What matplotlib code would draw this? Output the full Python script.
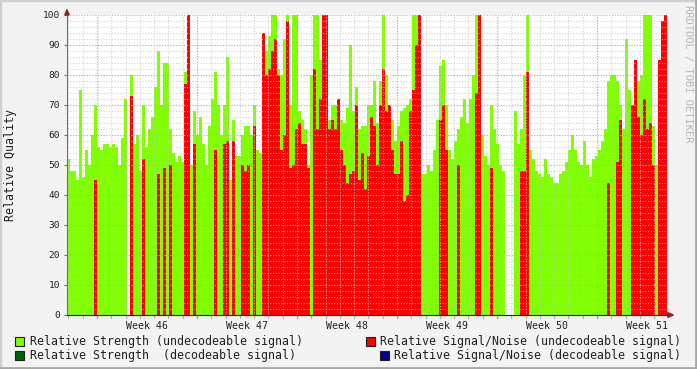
import numpy as np
import matplotlib
matplotlib.use("Agg")
import matplotlib.pyplot as plt
from matplotlib.patches import Rectangle, Polygon
from matplotlib.lines import Line2D

# one value per 3-pixel column slot, 200 slots over six weeks
strength_undec = [
    52, 48, 48, 45, 75, 46, 55, 50, 60, 70, 56, 55, 57, 57, 56, 57, 56, 50, 59, 72,
    0, 80, 57, 60, 48, 70, 56, 62, 66, 76, 88, 70, 84, 84, 62, 54, 51, 53, 51, 81,
    88, 50, 68, 60, 66, 57, 50, 63, 72, 81, 70, 60, 70, 86, 45, 65, 53, 53, 60, 63,
    63, 60, 70, 55, 54, 68, 88, 93, 100, 100, 82, 80, 92, 100, 70, 100, 100, 68, 65, 62,
    50, 80, 100, 100, 85, 100, 100, 65, 70, 70, 72, 65, 64, 69, 90, 68, 76, 62, 63, 63,
    70, 70, 78, 64, 78, 100, 80, 70, 65, 58, 63, 68, 69, 70, 72, 100, 100, 100, 47, 47,
    50, 48, 55, 65, 83, 85, 70, 55, 52, 58, 62, 66, 72, 64, 72, 80, 100, 70, 60, 53,
    50, 70, 62, 57, 50, 48, 0, 0, 0, 68, 57, 62, 80, 100, 55, 52, 48, 47, 46, 52,
    47, 46, 44, 44, 47, 48, 51, 55, 60, 55, 51, 50, 58, 50, 46, 52, 53, 55, 58, 62,
    78, 80, 80, 78, 70, 62, 92, 75, 62, 75, 78, 80, 100, 100, 100, 63, 50, 0, 0, 0,
]
snr_undec = [
    0, 0, 0, 0, 0, 0, 0, 0, 0, 45, 0, 0, 0, 0, 0, 0, 0, 0, 0, 0,
    0, 73, 0, 0, 0, 52, 0, 0, 0, 0, 47, 0, 49, 0, 50, 0, 0, 0, 0, 77,
    100, 0, 57, 0, 0, 0, 0, 0, 0, 55, 0, 0, 57, 58, 0, 58, 0, 0, 50, 48,
    50, 0, 63, 0, 0, 94, 80, 82, 88, 92, 80, 55, 60, 98, 49, 50, 62, 64, 57, 57,
    49, 0, 82, 62, 72, 100, 100, 62, 65, 62, 72, 55, 50, 44, 47, 48, 70, 45, 54, 42,
    53, 66, 63, 50, 70, 82, 68, 70, 55, 47, 47, 58, 38, 40, 68, 75, 90, 100, 0, 0,
    0, 0, 0, 0, 65, 70, 55, 0, 0, 0, 50, 0, 0, 0, 0, 0, 74, 100, 0, 0,
    0, 49, 0, 0, 0, 0, 0, 0, 0, 0, 0, 48, 48, 81, 0, 0, 0, 0, 0, 0,
    0, 0, 0, 0, 0, 0, 0, 0, 0, 0, 0, 0, 0, 0, 0, 0, 0, 0, 0, 0,
    44, 0, 0, 51, 65, 0, 0, 0, 70, 85, 66, 60, 72, 62, 64, 50, 0, 85, 98, 100,
]
week_labels = ["Week 46", "Week 47", "Week 48", "Week 49", "Week 50", "Week 51"]
legend_labels = [
    "Relative Strength (undecodeable signal)",
    "Relative Signal/Noise (undecodeable signal)",
    "Relative Strength  (decodeable signal)",
    "Relative Signal/Noise (decodeable signal)",
]
legend_colors = ["#80FF00", "#FF0000", "#006600", "#000099"]

W, H = 697, 369
SPAN_DAYS = 42.0
slot = SPAN_DAYS / len(strength_undec)
first_week = 2.1  # days from graph start to first week line

plt.rcParams['font.family'] = ['DejaVu Sans Mono']
fig = plt.figure(figsize=(W / 100, H / 100), dpi=100, facecolor="#F3F3F3")

# frame shading
fig.add_artist(Rectangle((0, 0), 1, 1, transform=fig.transFigure, fill=False,
                         edgecolor="#CFCFCF", linewidth=2.5))
fig.add_artist(Line2D([0, 1], [1.5 / H, 1.5 / H], transform=fig.transFigure,
                      color="#A8A8A8", linewidth=2))
fig.add_artist(Line2D([1 - 1.5 / W, 1 - 1.5 / W], [0, 1], transform=fig.transFigure,
                      color="#A8A8A8", linewidth=2))

ax = fig.add_axes([67 / W, (H - 315) / H, 600 / W, 300 / H])
ax.set_facecolor("white")
x = np.arange(len(strength_undec)) * slot
ax.bar(x, strength_undec, width=slot, align="edge", color="#80FF00", linewidth=0, zorder=2)
ax.bar(x, snr_undec, width=slot, align="edge", color="#FF0000", linewidth=0, zorder=3)

ax.set_xlim(0, SPAN_DAYS)
ax.set_ylim(0, 100)

minor_x = np.arange(first_week % 1.0, SPAN_DAYS, 1.0)
major_x = np.arange(first_week, SPAN_DAYS, 7.0)
for v in minor_x:
    ax.axvline(v, color="#C8C8C8", linestyle=(0, (1, 1.5)), linewidth=0.8, alpha=0.8, zorder=4)
for v in np.arange(2, 100, 2):
    ax.axhline(v, color="#C8C8C8", linestyle=(0, (1, 1.5)), linewidth=0.8, alpha=0.8, zorder=4)
for v in major_x:
    ax.axvline(v, color="#E89090", linestyle=(0, (1, 1.5)), linewidth=0.8, alpha=0.8, zorder=5)
for v in np.arange(10, 101, 10):
    ax.axhline(v, color="#E89090", linestyle=(0, (1, 1.5)), linewidth=0.8, alpha=0.8, zorder=5)

for s in ["top", "right"]:
    ax.spines[s].set_visible(False)
ax.spines["left"].set_color("#707070")
ax.spines["bottom"].set_color("#202040")
ax.spines["left"].set_zorder(6)
ax.spines["bottom"].set_zorder(6)

ax.set_yticks(np.arange(0, 101, 10))
ax.tick_params(axis="y", length=2, width=0.8, color="#707070", labelsize=6.8, pad=3,
               labelcolor="#202020")
ax.set_xticks(major_x + 3.5)
ax.set_xticklabels(week_labels)
ax.tick_params(axis="x", length=0, labelsize=7.1, pad=4, labelcolor="#202020")
ax.set_ylabel("Relative Quality", fontsize=8.4, color="#202020")
ax.yaxis.set_label_coords(-0.083, 0.5)

# small ticks below the x axis
for v in minor_x:
    ax.plot([v, v], [0, -0.9], color="#B0B0B0", linewidth=0.8, clip_on=False, zorder=6)
for v in major_x:
    ax.plot([v, v], [0, -0.9], color="#E08080", linewidth=0.8, clip_on=False, zorder=6)

# axis arrows
ax.add_patch(Polygon([[-0.15, 100], [0.15, 100], [0, 101.8]], closed=True, color="#902020",
                     clip_on=False, zorder=7))
ax.add_patch(Polygon([[SPAN_DAYS + 0.05, 0.8], [SPAN_DAYS + 0.05, -0.8], [SPAN_DAYS + 0.45, 0]],
                     closed=True, color="#902020", clip_on=False, zorder=7))

fig.text(688 / W, 1 - 5 / H, "RRDTOOL / TOBI OETIKER", rotation=-90, ha="center", va="top",
         fontsize=7.5, color="#B8B8B8")

# legend
rows = [1 - 341 / H, 1 - 355 / H]
items = [(15, 30, rows[0]), (366, 380, rows[0]), (15, 30, rows[1]), (380, 394, rows[1])]
for (bx, tx, ty), lab, col in zip(items, legend_labels, legend_colors):
    fig.add_artist(Rectangle((bx / W, ty - 5 / H), 9 / W, 9 / H, transform=fig.transFigure,
                             facecolor=col, edgecolor="#202020", linewidth=0.8))
    fig.text(tx / W, ty, lab, ha="left", va="center", fontsize=8.4, color="#202020")

fig.savefig("out.png", dpi=100, facecolor=fig.get_facecolor())
